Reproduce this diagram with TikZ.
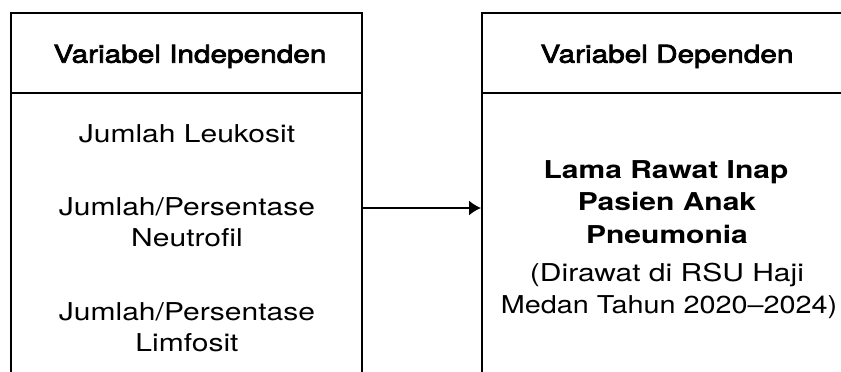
\documentclass[tikz,border=0pt]{standalone}
\usepackage{fontspec}
\setmainfont{TeX Gyre Heros}[FakeStretch=1.22]
\newfontfamily\headfont{TeX Gyre Heros}[FakeStretch=1.21, FakeBold=3]
\newfontfamily\narrowfont{TeX Gyre Heros}[FakeStretch=1.17]
\usetikzlibrary{arrows.meta}

\tikzset{
  frame/.style={draw, line width=2pt, rectangle, inner sep=0pt},
  plain/.style={anchor=base, inner sep=0pt, font=\fontsize{24.6}{30}\selectfont},
  head/.style={anchor=base, inner sep=0pt, font=\fontsize{24.6}{30}\selectfont\headfont},
  strong/.style={anchor=base, inner sep=0pt, font=\fontsize{24.6}{30}\selectfont\bfseries},
  link/.style={line width=1.6pt, -{Latex[length=12pt, width=15pt]}},
}

\begin{document}
\begin{tikzpicture}[x=1pt, y=-1pt]
  \useasboundingbox (0,0) rectangle (841,372);
  \clip (0,0) rectangle (841,372);

  % the two variable boxes (their lower ends run past the page)
  \node[frame, minimum width=351pt, minimum height=390pt] (leftbox) at (186.5,208) {};
  \node[frame, minimum width=370pt, minimum height=390pt] (rightbox) at (667,208) {};

  % header rows
  \draw[line width=2pt] (leftbox.west |- 0,93) -- (leftbox.east |- 0,93);
  \draw[line width=2pt] (rightbox.west |- 0,93) -- (rightbox.east |- 0,93);

  \node[head] (hleft) at (190,62.7) {Variabel Independen};
  \node[head] (hright) at (667,62.7) {Variabel Dependen};

  % independent variables
  \node[plain] (leuko) at (187,142.7) {Jumlah Leukosit};
  \node[plain] (neu1) at (187,215) {Jumlah/Persentase};
  \node[plain] (neu2) at (187,246.7) {Neutrofil};
  \node[plain] (lim1) at (187,320) {Jumlah/Persentase};
  \node[plain] (lim2) at (187,351.7) {Limfosit};

  % dependent variable
  \node[strong] (dep1) at (666,178.3) {Lama Rawat Inap};
  \node[strong] (dep2) at (667,210.7) {Pasien Anak};
  \node[strong] (dep3) at (667,243.3) {Pneumonia};
  \node[plain] (dep4) at (667,281.7) {(Dirawat di RSU Haji};
  \node[plain, font=\fontsize{24.6}{30}\selectfont\narrowfont] (dep5) at (669,313.3) {Medan Tahun 2020–2024)};

  % relation
  \draw[link] (leftbox.east) -- (rightbox.west);
\end{tikzpicture}
\end{document}
